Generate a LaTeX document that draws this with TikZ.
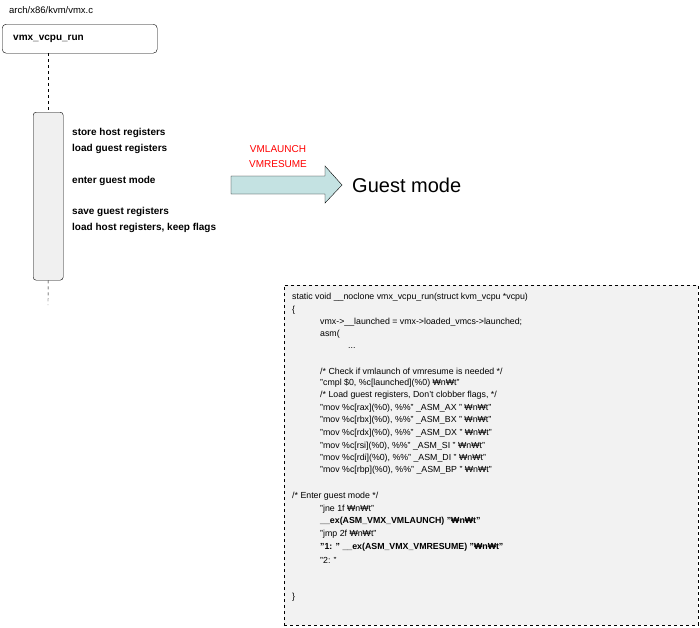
\documentclass[tikz,border=0pt]{standalone}
\usepackage{fontspec}
\setmainfont{Liberation Sans}
\definecolor{arrowfill}{HTML}{C4E2E2}
\definecolor{codebg}{HTML}{F2F2F2}
\begin{document}
\begin{tikzpicture}[x=1pt,y=-1pt,
  lbl/.style={anchor=west,inner sep=0pt,font=\fontsize{10}{11}\selectfont\bfseries},
  code/.style={anchor=west,inner sep=0pt,font=\fontsize{8.8}{9}\selectfont},
  codeb/.style={code,font=\fontsize{8.8}{9}\selectfont\bfseries},
  life/.style={dashed,thin}]
\useasboundingbox (0,0) rectangle (700,627);
\node[anchor=west,inner sep=0pt,font=\fontsize{9.5}{10}\selectfont] (file) at (9,10) {arch/x86/kvm/vmx.c};
\node[draw,rounded corners=4pt,minimum width=155pt,minimum height=29pt,anchor=north west,inner sep=0pt] (fn) at (2,24) {};
\node[lbl,anchor=west] (fnl) at (13,39) {vmx\_vcpu\_run};
\node[draw,fill=gray!12,rounded corners=3pt,minimum width=30pt,minimum height=168pt,anchor=north west,inner sep=0pt] (act) at (33,112) {};
\coordinate (lend) at (48,305);
\draw[life] (fn.south -| act.north) -- (act.north);
\draw[life] (act.south) -- (lend);
\node[lbl] (t1) at (72,133) {store host registers};
\node[lbl] (t2) at (72,149) {load guest registers};
\node[lbl] (t3) at (72,181) {enter guest mode};
\node[lbl] (t4) at (72,212) {save guest registers};
\node[lbl] (t5) at (72,228) {load host registers, keep flags};
\node[inner sep=0pt,text=red,font=\fontsize{10}{15}\selectfont,align=center] (vm) at (278,157) {VMLAUNCH\\VMRESUME};
\draw[fill=arrowfill] (231,176) -- (325,176) -- (325,166) -- (342,185) -- (325,203) -- (325,194) -- (231,194) -- cycle;
\node[anchor=west,inner sep=0pt,font=\fontsize{20}{22}\selectfont] (gm) at (352,185) {Guest mode};
\node[draw,dashed,fill=codebg,minimum width=414pt,minimum height=340pt,anchor=north west,inner sep=0pt] (box) at (284,285) {};
\node[code] (c1) at (292,297) {static void \_\_noclone vmx\_vcpu\_run(struct kvm\_vcpu *vcpu)};
\node[code] (c2) at (292,310) {\{};
\node[code] (c3) at (320,322) {vmx->\_\_launched = vmx->loaded\_vmcs->launched;};
\node[code] (c4) at (320,334) {asm(};
\node[code] (c5) at (348,348) {...};
\node[code] (c6) at (320,371) {/* Check if vmlaunch of vmresume is needed */};
\node[code] (c7) at (320,383) {"cmpl \$0, \%c[launched](\%0) ₩n₩t"};
\node[code] (c8) at (320,395) {/* Load guest registers,  Don't clobber flags, */};
\node[code] (c9) at (320,408) {"mov \%c[rax](\%0), \%\%" \_ASM\_AX " ₩n₩t"};
\node[code] (c10) at (320,420) {"mov \%c[rbx](\%0), \%\%" \_ASM\_BX " ₩n₩t"};
\node[code] (c11) at (320,433) {"mov \%c[rdx](\%0), \%\%" \_ASM\_DX " ₩n₩t"};
\node[code] (c12) at (320,446) {"mov \%c[rsi](\%0), \%\%" \_ASM\_SI " ₩n₩t"};
\node[code] (c13) at (320,458) {"mov \%c[rdi](\%0), \%\%" \_ASM\_DI " ₩n₩t"};
\node[code] (c14) at (320,470) {"mov \%c[rbp](\%0), \%\%" \_ASM\_BP " ₩n₩t"};
\node[code] (c15) at (292,496) {/* Enter guest mode */};
\node[code] (c16) at (320,509) {"jne 1f ₩n₩t"};
\node[codeb] (c17) at (320,521) {\_\_ex(ASM\_VMX\_VMLAUNCH) "₩n₩t"};
\node[code] (c18) at (320,534) {"jmp 2f ₩n₩t"};
\node[codeb] (c19) at (320,547) {"1: " \_\_ex(ASM\_VMX\_VMRESUME) "₩n₩t"};
\node[code] (c20) at (320,560) {"2: "};
\node[code] (c21) at (292,597) {\}};
\end{tikzpicture}
\end{document}
